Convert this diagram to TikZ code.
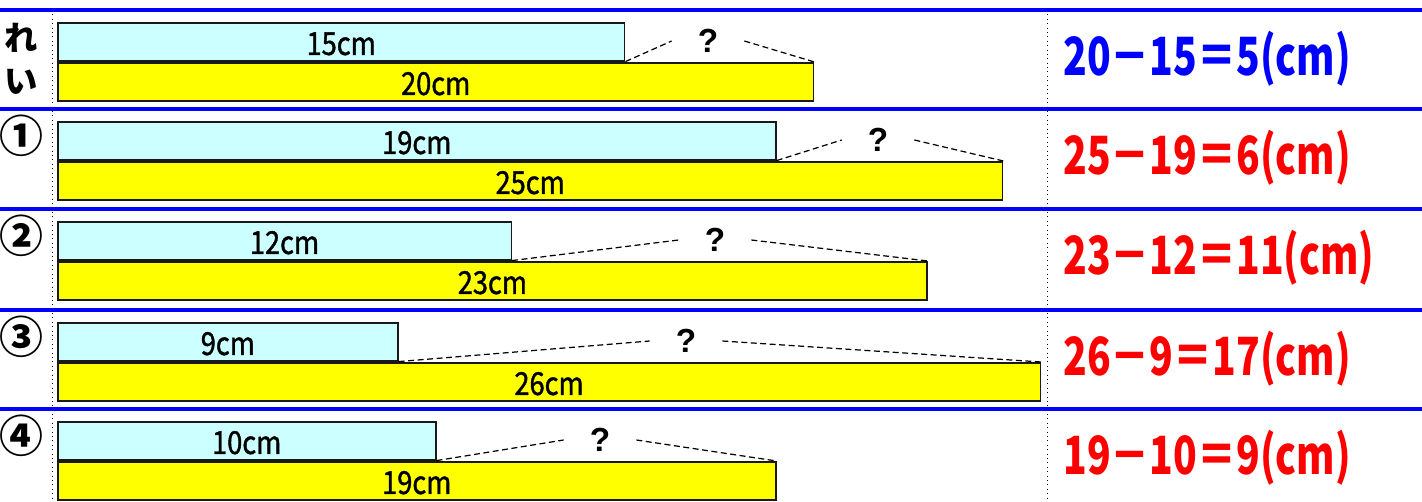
\documentclass[tikz,border=0pt]{standalone}
\usepackage{fontspec}
\setmainfont{Noto Sans CJK JP}
\newfontfamily\eqfont[FakeStretch=0.74]{Noto Sans CJK JP}
\newfontfamily\labfont[FakeStretch=0.86, FakeBold=1.2]{Noto Sans CJK JP}
\newfontfamily\qfont{Liberation Sans}

\definecolor{barcyan}{RGB}{204,255,255}
\definecolor{baryellow}{RGB}{255,255,0}
\definecolor{rulblue}{RGB}{0,0,255}
\tikzset{
  bar/.style={draw=black!90, line width=0.9pt, inner sep=0, anchor=north west,
              minimum height=0.76cm, text height=15pt, text depth=0pt,
              font=\labfont\fontsize{18}{18}\selectfont},
  gap line/.style={line width=0.7pt, dash pattern=on 3.4pt off 2pt},
}

\begin{document}
\begin{tikzpicture}[x=0.02cm, y=-0.02cm,
    qmark/.style={font=\qfont\bfseries\fontsize{19}{19}\selectfont, minimum width=1.44cm, inner sep=0},
    eqn/.style={font=\eqfont\bfseries\fontsize{30}{30}\selectfont, anchor=west, inner sep=0},
    rowlab/.style={font=\bfseries\fontsize{19}{19}\selectfont, inner sep=0},
  ]
  \useasboundingbox (0,0) rectangle (1422,502);

  % frame: dotted column lines and blue row rules
  \draw[dotted, line width=0.5pt] (52,10) -- (52,502);
  \draw[dotted, line width=0.5pt] (1047,10) -- (1047,502);
  \foreach \ry in {10,109,209,310,409}
    \draw[rulblue, line width=2pt] (0,\ry) -- (1422,\ry);

  % row labels
  \node[rowlab] (lre) at (21,38) {れ};
  \node[rowlab] (li) at (21,82) {い};
  \foreach \n/\ry/\mk in {1/109/①, 2/209/②, 3/310/③, 4/409/④}
    \node[rowlab, font=\bfseries\fontsize{25}{25}\selectfont] (l\n) at (21,\ry+27) {\mk};

  % bars, gap marks and answers
  \foreach \n/\ry/\sa/\sb/\qx/\ans/\col in {
      0/10/15/20/708/{20－15＝5(cm)}/rulblue,
      1/109/19/25/878/{25－19＝6(cm)}/red,
      2/209/12/23/715/{23－12＝11(cm)}/red,
      3/310/9/26/686/{26－9＝17(cm)}/red,
      4/409/10/19/600/{19－10＝9(cm)}/red} {

    \pgfmathsetmacro{\wa}{\sa*0.756}
    \pgfmathsetmacro{\wb}{\sb*0.756}

    % short and long bars
    \node[bar, fill=barcyan, minimum width=\wa cm] (s\n) at (57,\ry+12) {\sa cm};
    \node[bar, fill=baryellow, minimum width=\wb cm] (t\n) at (57,\ry+52) {\sb cm};

    % difference mark
    \node[qmark] (q\n) at (\qx,\ry+31) {?};
    \draw[gap line] (s\n.south east) -- (q\n.west);
    \draw[gap line] (q\n.east) -- (t\n.north east);

    % answer
    \node[eqn, text=\col] (a\n) at (1063,\ry+49) {\ans};
  }
\end{tikzpicture}
\end{document}
